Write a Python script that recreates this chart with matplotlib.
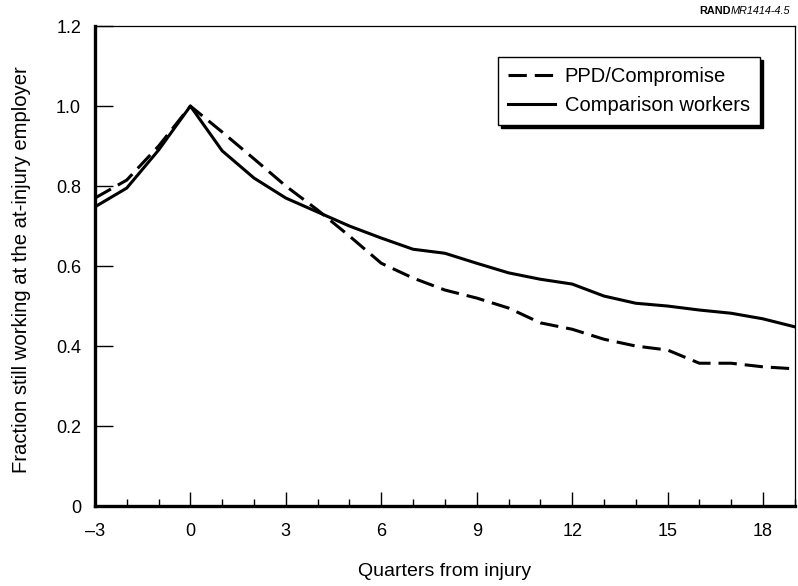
import matplotlib
matplotlib.use("Agg")
import matplotlib.pyplot as plt
from matplotlib.ticker import MultipleLocator

plt.rcParams['font.family'] = ['Liberation Sans', 'DejaVu Sans']

# quarters relative to injury and fraction still at the at-injury employer
quarters = list(range(-3, 20))
ppd_compromise = [0.77, 0.815, 0.90, 1.00, 0.935, 0.868, 0.80, 0.74, 0.675, 0.607,
                  0.57, 0.54, 0.52, 0.495, 0.458, 0.442, 0.417, 0.40, 0.39,
                  0.357, 0.357, 0.348, 0.343]
comparison = [0.748, 0.795, 0.89, 1.00, 0.888, 0.82, 0.77, 0.735, 0.70, 0.67,
              0.642, 0.632, 0.607, 0.583, 0.567, 0.555, 0.525, 0.507, 0.50,
              0.49, 0.482, 0.468, 0.448]
xtick_vals = [-3, 0, 3, 6, 9, 12, 15, 18]
xtick_labels = ['\u20133', '0', '3', '6', '9', '12', '15', '18']
ytick_vals = [0, 0.2, 0.4, 0.6, 0.8, 1.0, 1.2]
ytick_labels = ['0', '0.2', '0.4', '0.6', '0.8', '1.0', '1.2']

fig = plt.figure(figsize=(7.98, 5.86), dpi=100)
ax = fig.add_axes([0.119, 0.1365, 0.877, 0.819])

ax.plot(quarters, ppd_compromise, color='black', lw=2.2,
        linestyle=(0, (6, 2.6)), label='PPD/Compromise')
ax.plot(quarters, comparison, color='black', lw=2.2, label='Comparison workers')

ax.set_xlim(-3, 19)
ax.set_ylim(0, 1.2)
ax.set_xticks(xtick_vals)
ax.set_xticklabels(xtick_labels)
ax.xaxis.set_minor_locator(MultipleLocator(1))
ax.set_yticks(ytick_vals)
ax.set_yticklabels(ytick_labels)

ax.tick_params(axis='x', which='major', direction='in', length=10, width=1,
               labelsize=13, pad=12)
ax.tick_params(axis='x', which='minor', direction='in', length=5, width=1)
ax.tick_params(axis='y', which='major', direction='in', length=13, width=1,
               labelsize=13, pad=10)

for side in ['left', 'bottom']:
    ax.spines[side].set_linewidth(2.4)
for side in ['top', 'right']:
    ax.spines[side].set_linewidth(0.9)

ax.set_xlabel('Quarters from injury', fontsize=14, labelpad=17)
ax.set_ylabel('Fraction still working at the at-injury employer', fontsize=14.6,
              labelpad=18, y=0.492)

leg = ax.legend(loc='upper left', bbox_to_anchor=(0.562, 0.957), fontsize=14.5,
                frameon=True, fancybox=False, handlelength=2.3,
                handletextpad=0.5, borderpad=0.5, labelspacing=0.5,
                shadow={'color': 'black', 'alpha': 1})
leg.get_frame().set_edgecolor('black')
leg.get_frame().set_linewidth(1.0)

tag = fig.text(0.99, 0.982, 'MR1414-4.5', ha='right', va='center',
               fontsize=7.8, style='italic')
ax.annotate('RAND', xy=(0, 0.5), xycoords=tag, ha='right', va='center',
            fontsize=7.8, fontweight='bold')

fig.savefig('out.png', dpi=100)
